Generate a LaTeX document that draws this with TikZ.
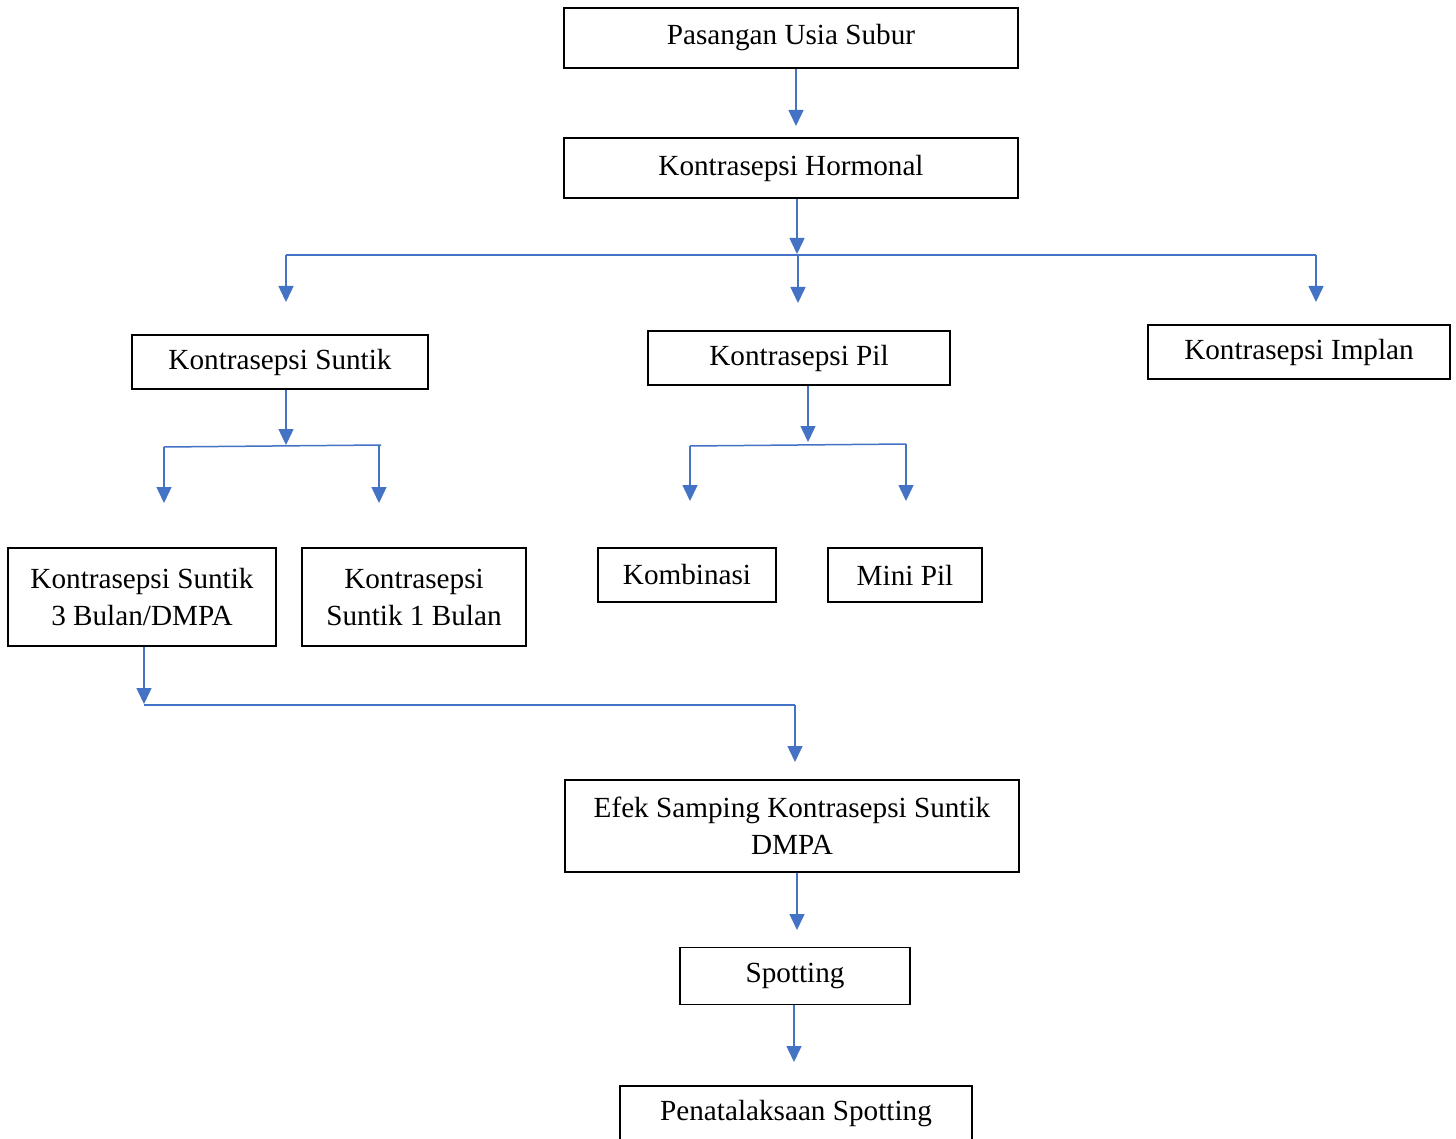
\documentclass[tikz,border=0pt]{standalone}
\usepackage{fontspec}
\setmainfont{Liberation Serif}
\usetikzlibrary{arrows.meta}
\definecolor{conblue}{HTML}{4472C4}
\tikzset{
  box/.style={draw=black, line width=0.7pt, inner sep=0pt, align=center,
    font=\fontsize{14.6}{18.5}\selectfont},
  link/.style={draw=conblue, line width=0.75pt},
  conn/.style={link, -{Triangle[width=7.5pt,length=8pt]}}
}
\begin{document}
\begin{tikzpicture}[x=0.5pt,y=-0.5pt]
\clip (0,0) rectangle (1456,1139);
\fill[white] (0,0) rectangle (1456,1139);
% boxes
\node[box, minimum width=227pt, minimum height=30pt] (PUS) at (791,38) {Pasangan Usia Subur};
\node[box, minimum width=227pt, minimum height=30pt] (KH) at (791,168) {Kontrasepsi Hormonal};
\node[box, minimum width=148pt, minimum height=27pt] (KS) at (280,362) {Kontrasepsi Suntik};
\node[box, minimum width=151pt, minimum height=27pt] (KP) at (799,358) {Kontrasepsi Pil};
\node[box, minimum width=151pt, minimum height=27pt] (KI) at (1299,352) {Kontrasepsi Implan};
\node[box, minimum width=134pt, minimum height=49pt] (K3) at (142,597) {Kontrasepsi Suntik\\3 Bulan/DMPA};
\node[box, minimum width=112pt, minimum height=49pt] (K1) at (414,597) {Kontrasepsi\\Suntik 1 Bulan};
\node[box, minimum width=89pt, minimum height=27pt] (KB) at (687,575) {Kombinasi};
\node[box, minimum width=77pt, minimum height=27pt] (MP) at (905,575) {Mini Pil};
\node[box, minimum width=227pt, minimum height=46pt] (EF) at (792,826) {Efek Samping Kontrasepsi Suntik\\DMPA};
\node[box, minimum width=115pt, minimum height=28.5pt] (SP) at (795,976) {Spotting};
\node[box, minimum width=176pt, minimum height=28pt] (PS) at (796,1114) {Penatalaksaan Spotting};
% coordinates
\coordinate (t1) at (796,126);
\coordinate (j1) at (797,254);
\coordinate (hL) at (286,255);
\coordinate (hM) at (798,255);
\coordinate (hR) at (1316,255);
\coordinate (tL) at (286,302);
\coordinate (tM) at (798,303);
\coordinate (tR) at (1316,302);
\coordinate (j2) at (286,445);
\coordinate (s1) at (164,447);
\coordinate (s2) at (379,445);
\coordinate (s2e) at (381,445);
\coordinate (u1) at (164,503);
\coordinate (u2) at (379,503);
\coordinate (j3) at (808,442);
\coordinate (p1) at (690,446);
\coordinate (p2) at (906,444);
\coordinate (v1) at (690,501);
\coordinate (v2) at (906,501);
\coordinate (j4) at (144,704);
\coordinate (q1) at (144,705);
\coordinate (q2) at (795,705);
\coordinate (w1) at (795,762);
\coordinate (t5) at (797,930);
\coordinate (t6) at (794,1062);
% connectors
\draw[conn] (PUS.south -| t1) -- (t1);
\draw[link] (hL) -- (hR);
\draw[conn] (KH.south -| j1) -- (j1);
\draw[conn] (hL) -- (tL);
\draw[conn] (hM) -- (tM);
\draw[conn] (hR) -- (tR);
\draw[link] (s1) -- (s2e);
\draw[conn] (KS.south -| j2) -- (j2);
\draw[conn] (s1) -- (u1);
\draw[conn] (s2) -- (u2);
\draw[link] (p1) -- (p2);
\draw[conn] (KP.south -| j3) -- (j3);
\draw[conn] (p1) -- (v1);
\draw[conn] (p2) -- (v2);
\draw[link] (q1) -- (q2);
\draw[conn] (K3.south -| j4) -- (j4);
\draw[conn] (q2) -- (w1);
\draw[conn] (EF.south -| t5) -- (t5);
\draw[conn] (SP.south -| t6) -- (t6);
\end{tikzpicture}
\end{document}
